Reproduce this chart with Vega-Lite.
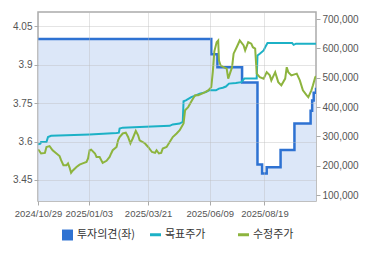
{
  "$schema": "https://vega.github.io/schema/vega-lite/v6.json",
  "width": 278,
  "height": 189,
  "autosize": {"type": "none"},
  "padding": {"left": 38, "top": 12, "right": 54, "bottom": 54},
  "background": "white",
  "config": {
    "view": {"stroke": "#aaaaaa", "strokeWidth": 1.5},
    "axis": {"labelFont": "Liberation Sans", "labelFontSize": 10, "labelColor": "#555555", "domain": false, "tickColor": "#aaaaaa", "tickSize": 4, "labelPadding": 2, "gridColor": "#bbbbbb", "gridOpacity": 0.4, "title": null}
  },
  "datasets": {
    "opinion": [
      {"date": "2024-10-29", "series": "투자의견(좌)", "value": 4.0},
      {"date": "2025-06-11", "series": "투자의견(좌)", "value": 3.94},
      {"date": "2025-06-19", "series": "투자의견(좌)", "value": 3.89},
      {"date": "2025-07-21", "series": "투자의견(좌)", "value": 3.83},
      {"date": "2025-08-10", "series": "투자의견(좌)", "value": 3.51},
      {"date": "2025-08-16", "series": "투자의견(좌)", "value": 3.475},
      {"date": "2025-08-22", "series": "투자의견(좌)", "value": 3.5},
      {"date": "2025-09-09", "series": "투자의견(좌)", "value": 3.567},
      {"date": "2025-09-27", "series": "투자의견(좌)", "value": 3.67},
      {"date": "2025-10-18", "series": "투자의견(좌)", "value": 3.72},
      {"date": "2025-10-20", "series": "투자의견(좌)", "value": 3.76},
      {"date": "2025-10-22", "series": "투자의견(좌)", "value": 3.79},
      {"date": "2025-10-25", "series": "투자의견(좌)", "value": 3.81}
    ],
    "price": [
      {"date": "2024-10-29", "series": "목표주가", "value": 273000},
      {"date": "2024-11-01", "series": "목표주가", "value": 275000},
      {"date": "2024-11-02", "series": "목표주가", "value": 281000},
      {"date": "2024-11-09", "series": "목표주가", "value": 281000},
      {"date": "2024-11-11", "series": "목표주가", "value": 298000},
      {"date": "2024-11-15", "series": "목표주가", "value": 302000},
      {"date": "2024-12-05", "series": "목표주가", "value": 304000},
      {"date": "2025-01-04", "series": "목표주가", "value": 307000},
      {"date": "2025-02-08", "series": "목표주가", "value": 312000},
      {"date": "2025-02-11", "series": "목표주가", "value": 313000},
      {"date": "2025-02-12", "series": "목표주가", "value": 327000},
      {"date": "2025-02-16", "series": "목표주가", "value": 330000},
      {"date": "2025-03-10", "series": "목표주가", "value": 332000},
      {"date": "2025-04-18", "series": "목표주가", "value": 336000},
      {"date": "2025-04-22", "series": "목표주가", "value": 341000},
      {"date": "2025-05-01", "series": "목표주가", "value": 344000},
      {"date": "2025-05-05", "series": "목표주가", "value": 350000},
      {"date": "2025-05-06", "series": "목표주가", "value": 420000},
      {"date": "2025-05-09", "series": "목표주가", "value": 423000},
      {"date": "2025-05-16", "series": "목표주가", "value": 434000},
      {"date": "2025-05-22", "series": "목표주가", "value": 440000},
      {"date": "2025-05-27", "series": "목표주가", "value": 446000},
      {"date": "2025-06-04", "series": "목표주가", "value": 451000},
      {"date": "2025-06-08", "series": "목표주가", "value": 457000},
      {"date": "2025-06-17", "series": "목표주가", "value": 457000},
      {"date": "2025-06-21", "series": "목표주가", "value": 463000},
      {"date": "2025-06-26", "series": "목표주가", "value": 466000},
      {"date": "2025-06-30", "series": "목표주가", "value": 470000},
      {"date": "2025-07-04", "series": "목표주가", "value": 480000},
      {"date": "2025-07-13", "series": "목표주가", "value": 482000},
      {"date": "2025-07-20", "series": "목표주가", "value": 485000},
      {"date": "2025-07-22", "series": "목표주가", "value": 491000},
      {"date": "2025-07-24", "series": "목표주가", "value": 497000},
      {"date": "2025-08-09", "series": "목표주가", "value": 497000},
      {"date": "2025-08-10", "series": "목표주가", "value": 576000},
      {"date": "2025-08-13", "series": "목표주가", "value": 582000},
      {"date": "2025-08-18", "series": "목표주가", "value": 593000},
      {"date": "2025-08-20", "series": "목표주가", "value": 604000},
      {"date": "2025-08-23", "series": "목표주가", "value": 618000},
      {"date": "2025-09-24", "series": "목표주가", "value": 618000},
      {"date": "2025-09-26", "series": "목표주가", "value": 612000},
      {"date": "2025-09-29", "series": "목표주가", "value": 616000},
      {"date": "2025-10-25", "series": "목표주가", "value": 616000},
      {"date": "2024-10-29", "series": "수정주가", "value": 255000},
      {"date": "2024-10-30", "series": "수정주가", "value": 253000},
      {"date": "2024-11-02", "series": "수정주가", "value": 242000},
      {"date": "2024-11-07", "series": "수정주가", "value": 244000},
      {"date": "2024-11-09", "series": "수정주가", "value": 264000},
      {"date": "2024-11-13", "series": "수정주가", "value": 267000},
      {"date": "2024-11-17", "series": "수정주가", "value": 253000},
      {"date": "2024-11-22", "series": "수정주가", "value": 242000},
      {"date": "2024-11-26", "series": "수정주가", "value": 233000},
      {"date": "2024-11-28", "series": "수정주가", "value": 219000},
      {"date": "2024-12-01", "series": "수정주가", "value": 202000},
      {"date": "2024-12-05", "series": "수정주가", "value": 202000},
      {"date": "2024-12-07", "series": "수정주가", "value": 208000},
      {"date": "2024-12-09", "series": "수정주가", "value": 194000},
      {"date": "2024-12-11", "series": "수정주가", "value": 176000},
      {"date": "2024-12-13", "series": "수정주가", "value": 183000},
      {"date": "2024-12-18", "series": "수정주가", "value": 196000},
      {"date": "2024-12-22", "series": "수정주가", "value": 204000},
      {"date": "2024-12-26", "series": "수정주가", "value": 208000},
      {"date": "2024-12-31", "series": "수정주가", "value": 213000},
      {"date": "2025-01-02", "series": "수정주가", "value": 225000},
      {"date": "2025-01-04", "series": "수정주가", "value": 253000},
      {"date": "2025-01-06", "series": "수정주가", "value": 255000},
      {"date": "2025-01-11", "series": "수정주가", "value": 242000},
      {"date": "2025-01-13", "series": "수정주가", "value": 230000},
      {"date": "2025-01-17", "series": "수정주가", "value": 230000},
      {"date": "2025-01-21", "series": "수정주가", "value": 210000},
      {"date": "2025-01-26", "series": "수정주가", "value": 217000},
      {"date": "2025-01-30", "series": "수정주가", "value": 230000},
      {"date": "2025-02-01", "series": "수정주가", "value": 242000},
      {"date": "2025-02-03", "series": "수정주가", "value": 253000},
      {"date": "2025-02-08", "series": "수정주가", "value": 264000},
      {"date": "2025-02-10", "series": "수정주가", "value": 287000},
      {"date": "2025-02-12", "series": "수정주가", "value": 298000},
      {"date": "2025-02-16", "series": "수정주가", "value": 310000},
      {"date": "2025-02-20", "series": "수정주가", "value": 313000},
      {"date": "2025-02-23", "series": "수정주가", "value": 298000},
      {"date": "2025-02-26", "series": "수정주가", "value": 276000},
      {"date": "2025-03-01", "series": "수정주가", "value": 293000},
      {"date": "2025-03-05", "series": "수정주가", "value": 319000},
      {"date": "2025-03-08", "series": "수정주가", "value": 304000},
      {"date": "2025-03-10", "series": "수정주가", "value": 287000},
      {"date": "2025-03-14", "series": "수정주가", "value": 281000},
      {"date": "2025-03-17", "series": "수정주가", "value": 276000},
      {"date": "2025-03-21", "series": "수정주가", "value": 264000},
      {"date": "2025-03-26", "series": "수정주가", "value": 247000},
      {"date": "2025-03-30", "series": "수정주가", "value": 244000},
      {"date": "2025-04-01", "series": "수정주가", "value": 253000},
      {"date": "2025-04-04", "series": "수정주가", "value": 242000},
      {"date": "2025-04-07", "series": "수정주가", "value": 244000},
      {"date": "2025-04-09", "series": "수정주가", "value": 259000},
      {"date": "2025-04-14", "series": "수정주가", "value": 264000},
      {"date": "2025-04-18", "series": "수정주가", "value": 281000},
      {"date": "2025-04-22", "series": "수정주가", "value": 298000},
      {"date": "2025-04-27", "series": "수정주가", "value": 310000},
      {"date": "2025-05-01", "series": "수정주가", "value": 321000},
      {"date": "2025-05-06", "series": "수정주가", "value": 344000},
      {"date": "2025-05-08", "series": "수정주가", "value": 389000},
      {"date": "2025-05-12", "series": "수정주가", "value": 400000},
      {"date": "2025-05-17", "series": "수정주가", "value": 423000},
      {"date": "2025-05-21", "series": "수정주가", "value": 440000},
      {"date": "2025-05-25", "series": "수정주가", "value": 440000},
      {"date": "2025-05-30", "series": "수정주가", "value": 446000},
      {"date": "2025-06-03", "series": "수정주가", "value": 451000},
      {"date": "2025-06-07", "series": "수정주가", "value": 457000},
      {"date": "2025-06-11", "series": "수정주가", "value": 468000},
      {"date": "2025-06-13", "series": "수정주가", "value": 520000},
      {"date": "2025-06-15", "series": "수정주가", "value": 590000},
      {"date": "2025-06-18", "series": "수정주가", "value": 621000},
      {"date": "2025-06-20", "series": "수정주가", "value": 627000},
      {"date": "2025-06-21", "series": "수정주가", "value": 559000},
      {"date": "2025-06-23", "series": "수정주가", "value": 542000},
      {"date": "2025-06-27", "series": "수정주가", "value": 536000},
      {"date": "2025-07-01", "series": "수정주가", "value": 531000},
      {"date": "2025-07-03", "series": "수정주가", "value": 497000},
      {"date": "2025-07-08", "series": "수정주가", "value": 536000},
      {"date": "2025-07-10", "series": "수정주가", "value": 582000},
      {"date": "2025-07-14", "series": "수정주가", "value": 604000},
      {"date": "2025-07-18", "series": "수정주가", "value": 627000},
      {"date": "2025-07-23", "series": "수정주가", "value": 610000},
      {"date": "2025-07-25", "series": "수정주가", "value": 593000},
      {"date": "2025-07-29", "series": "수정주가", "value": 621000},
      {"date": "2025-08-02", "series": "수정주가", "value": 616000},
      {"date": "2025-08-04", "series": "수정주가", "value": 604000},
      {"date": "2025-08-07", "series": "수정주가", "value": 599000},
      {"date": "2025-08-09", "series": "수정주가", "value": 514000},
      {"date": "2025-08-13", "series": "수정주가", "value": 502000},
      {"date": "2025-08-18", "series": "수정주가", "value": 497000},
      {"date": "2025-08-22", "series": "수정주가", "value": 519000},
      {"date": "2025-08-26", "series": "수정주가", "value": 508000},
      {"date": "2025-08-28", "series": "수정주가", "value": 491000},
      {"date": "2025-09-02", "series": "수정주가", "value": 519000},
      {"date": "2025-09-06", "series": "수정주가", "value": 485000},
      {"date": "2025-09-10", "series": "수정주가", "value": 474000},
      {"date": "2025-09-15", "series": "수정주가", "value": 497000},
      {"date": "2025-09-17", "series": "수정주가", "value": 536000},
      {"date": "2025-09-19", "series": "수정주가", "value": 519000},
      {"date": "2025-09-23", "series": "수정주가", "value": 508000},
      {"date": "2025-09-30", "series": "수정주가", "value": 514000},
      {"date": "2025-10-04", "series": "수정주가", "value": 491000},
      {"date": "2025-10-08", "series": "수정주가", "value": 457000},
      {"date": "2025-10-13", "series": "수정주가", "value": 440000},
      {"date": "2025-10-15", "series": "수정주가", "value": 434000},
      {"date": "2025-10-19", "series": "수정주가", "value": 457000},
      {"date": "2025-10-21", "series": "수정주가", "value": 474000},
      {"date": "2025-10-24", "series": "수정주가", "value": 502000},
      {"date": "2025-10-25", "series": "수정주가", "value": 505000}
    ]
  },
  "encoding": {
    "x": {
      "field": "date",
      "type": "temporal",
      "scale": {"type": "utc", "domain": [{"year": 2024, "month": 10, "date": 29, "utc": true}, {"year": 2025, "month": 10, "date": 25, "utc": true}]},
      "axis": {
        "values": [
          {"year": 2024, "month": 10, "date": 29, "utc": true},
          {"year": 2025, "month": 1, "date": 3, "utc": true},
          {"year": 2025, "month": 3, "date": 21, "utc": true},
          {"year": 2025, "month": 6, "date": 9, "utc": true},
          {"year": 2025, "month": 8, "date": 19, "utc": true}
        ],
        "format": "%Y/%m/%d",
        "labelFontSize": 9.5,
        "labelOverlap": false,
        "labelFlush": false,
        "labelPadding": 3,
        "zindex": 1
      }
    }
  },
  "layer": [
    {
      "data": {"name": "opinion"},
      "encoding": {
        "y": {
          "field": "value",
          "type": "quantitative",
          "scale": {"domain": [3.368, 4.105], "zero": false, "nice": false},
          "axis": {"orient": "left", "values": [3.45, 3.6, 3.75, 3.9, 4.05], "format": ".2~f", "zindex": 1}
        }
      },
      "layer": [
        {"mark": {"type": "area", "interpolate": "step-after", "fill": "#dce7f8", "clip": true}},
        {
          "mark": {"type": "line", "interpolate": "step-after", "strokeWidth": 2.5, "clip": true},
          "encoding": {"color": {"field": "series", "type": "nominal"}}
        }
      ]
    },
    {
      "data": {"name": "price"},
      "mark": {"type": "line", "strokeWidth": 2, "clip": true},
      "encoding": {
        "y": {
          "field": "value",
          "type": "quantitative",
          "scale": {"domain": [80000, 724000], "zero": false, "nice": false},
          "axis": {"orient": "right", "values": [100000, 200000, 300000, 400000, 500000, 600000, 700000], "labelExpr": "format(datum.value, ',.0f')", "grid": false}
        },
        "color": {
          "field": "series",
          "type": "nominal",
          "scale": {"domain": ["투자의견(좌)", "목표주가", "수정주가"], "range": ["#2e72d2", "#1cb1c6", "#8db43e"]},
          "legend": {
            "orient": "none",
            "legendX": 24,
            "legendY": 217,
            "direction": "horizontal",
            "title": null,
            "labelFont": "Noto Sans CJK KR",
            "labelFontSize": 11,
            "labelColor": "#333333",
            "symbolType": "stroke",
            "symbolSize": 120,
            "symbolStrokeWidth": 3,
            "columnPadding": 8,
            "gridAlign": "all",
            "labelOffset": 4,
            "encode": {
              "symbols": {
                "update": {
                  "shape": {"signal": "datum.value === '투자의견(좌)' ? 'square' : 'stroke'"},
                  "fill": {"signal": "datum.value === '투자의견(좌)' ? '#2e72d2' : 'transparent'"},
                  "strokeWidth": {"signal": "datum.value === '투자의견(좌)' ? 0 : 3"}
                }
              }
            }
          }
        }
      }
    }
  ],
  "resolve": {"scale": {"y": "independent"}}
}
